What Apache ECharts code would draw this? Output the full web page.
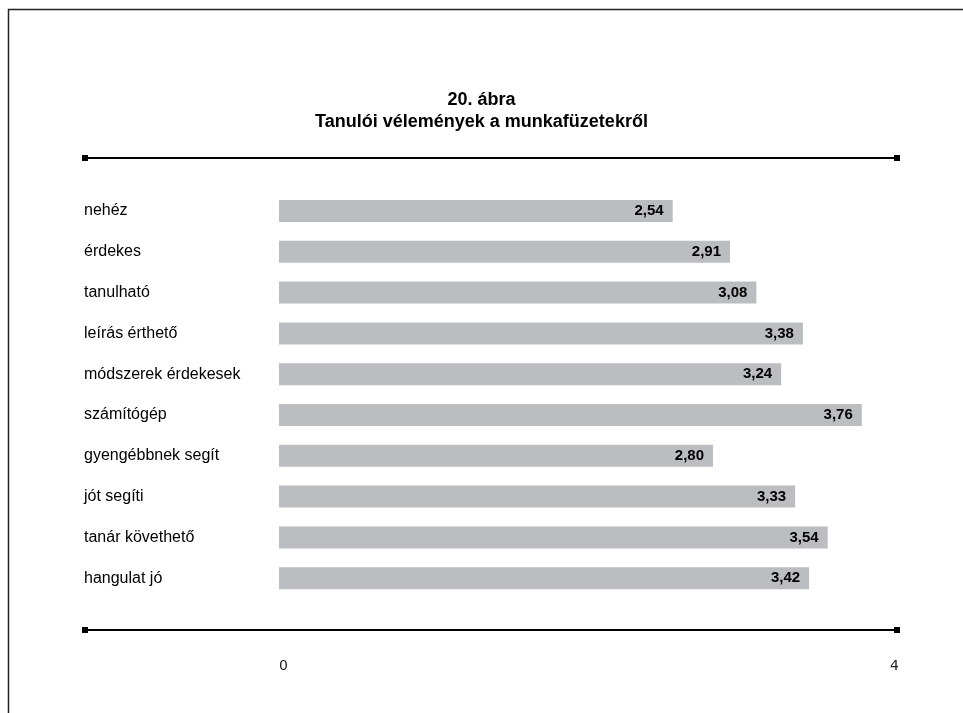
<!DOCTYPE html>
<html>
<head>
<meta charset="utf-8">
<script src="https://cdn.jsdelivr.net/npm/echarts@6/dist/echarts.min.js"></script>
<style>
  html, body { margin: 0; padding: 0; background: #fff; }
  #main { width: 963px; height: 713px; }
</style>
</head>
<body>
<div id="main"></div>
<script>
  // adatok
  const categories = ['nehéz', 'érdekes', 'tanulható', 'leírás érthető', 'módszerek érdekesek',
    'számítógép', 'gyengébbnek segít', 'jót segíti', 'tanár követhető', 'hangulat jó'];
  const values = [2.54, 2.91, 3.08, 3.38, 3.24, 3.76, 2.80, 3.33, 3.54, 3.42];
  const axisMin = 0;
  const axisMax = 4;

  const font = '"Liberation Sans", Arial, sans-serif';

  const chart = echarts.init(document.getElementById('main'));

  // dekoratív vonalak a grafikon felett és alatt
  function rule(y) {
    return [
      { type: 'line', shape: { x1: 85, y1: y, x2: 897, y2: y }, style: { stroke: '#000', lineWidth: 2 } },
      { type: 'rect', shape: { x: 82, y: y - 3, width: 6, height: 6 }, style: { fill: '#000' } },
      { type: 'rect', shape: { x: 894, y: y - 3, width: 6, height: 6 }, style: { fill: '#000' } }
    ];
  }

  const option = {
    backgroundColor: '#fff',
    animation: false,
    title: {
      text: '20. ábra\nTanulói vélemények a munkafüzetekről',
      left: 'center',
      top: 84,
      textStyle: {
        fontFamily: font,
        fontSize: 18,
        fontWeight: 'bold',
        color: '#000',
        lineHeight: 22
      }
    },
    graphic: [
      { type: 'rect', shape: { x: 8.5, y: 9.5, width: 1200, height: 1200 }, style: { fill: null, stroke: '#222', lineWidth: 1.5 } }
    ].concat(rule(158), rule(630)),
    grid: {
      left: 279,
      right: 64,
      top: 190.6,
      height: 408
    },
    xAxis: {
      type: 'value',
      min: axisMin,
      max: axisMax,
      interval: 4,
      axisLine: { show: false },
      axisTick: { show: false },
      splitLine: { show: false },
      axisLabel: {
        margin: 61,
        fontSize: 14,
        color: '#222',
        fontFamily: '"DejaVu Sans", sans-serif',
        alignMinLabel: 'left',
        alignMaxLabel: 'right'
      }
    },
    yAxis: {
      type: 'category',
      data: categories,
      inverse: true,
      axisLine: { show: false },
      axisTick: { show: false },
      axisLabel: {
        align: 'left',
        margin: 195,
        fontSize: 16,
        color: '#000',
        fontFamily: font
      }
    },
    series: [{
      type: 'bar',
      data: values,
      barWidth: 22,
      itemStyle: { color: '#bcbdc1' },
      label: {
        show: true,
        position: 'insideRight',
        distance: 9,
        color: '#000',
        fontWeight: 'bold',
        fontSize: 15,
        fontFamily: font,
        formatter: p => p.value.toFixed(2).replace('.', ',')
      }
    }]
  };

  chart.setOption(option);
</script>
</body>
</html>
